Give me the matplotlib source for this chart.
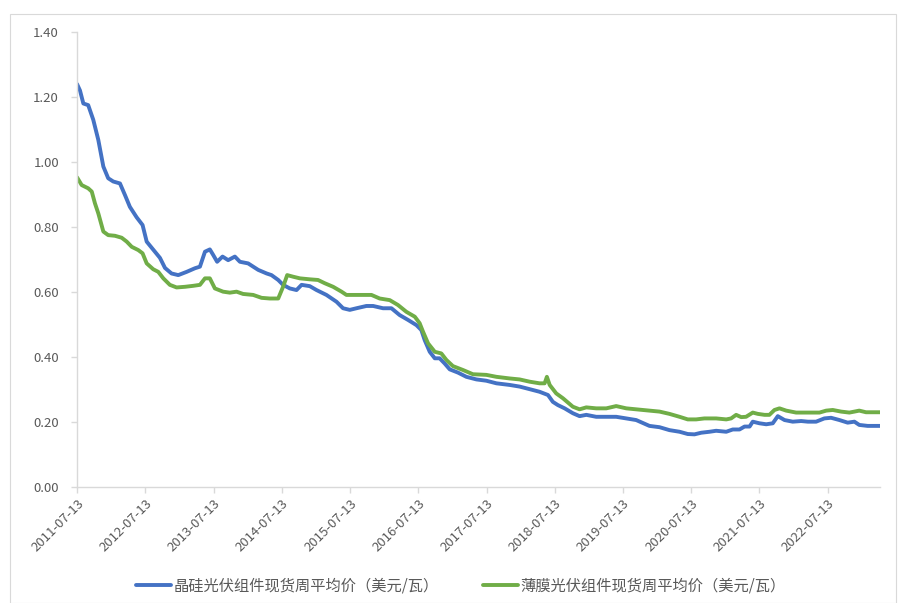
import matplotlib
matplotlib.use("Agg")
import matplotlib.pyplot as plt
from matplotlib.patches import Rectangle
import pandas as pd

plt.rcParams['font.family'] = ['Noto Sans CJK SC', 'DejaVu Sans']

# Weekly average spot price of PV modules (USD/W)
crystal_dates = [
    "2011-07-13", "2011-07-29", "2011-08-16", "2011-09-11", "2011-10-08", "2011-11-04",
    "2011-12-01", "2011-12-27", "2012-01-23", "2012-02-28", "2012-03-26", "2012-04-21",
    "2012-05-27", "2012-06-28", "2012-07-20", "2012-09-02", "2012-09-29", "2012-10-26",
    "2012-11-30", "2013-01-05", "2013-02-19", "2013-04-04", "2013-05-01", "2013-05-28",
    "2013-06-23", "2013-07-11", "2013-08-01", "2013-08-30", "2013-09-29", "2013-11-04",
    "2013-12-01", "2014-01-14", "2014-03-09", "2014-04-23", "2014-05-19", "2014-06-24",
    "2014-07-20", "2014-08-25", "2014-09-30", "2014-10-27", "2014-12-10", "2015-01-15",
    "2015-03-09", "2015-05-02", "2015-06-06", "2015-07-12", "2015-08-17", "2015-10-09",
    "2015-11-14", "2016-01-06", "2016-02-20", "2016-04-04", "2016-05-19", "2016-07-03",
    "2016-07-29", "2016-08-16", "2016-09-12", "2016-10-09", "2016-11-04", "2016-12-01",
    "2016-12-28", "2017-02-10", "2017-03-27", "2017-05-20", "2017-07-12", "2017-09-04",
    "2017-11-14", "2018-01-06", "2018-03-01", "2018-04-23", "2018-06-07", "2018-07-03",
    "2018-07-30", "2018-09-04", "2018-10-18", "2018-11-23", "2018-12-29", "2019-02-20",
    "2019-04-15", "2019-06-07", "2019-07-31", "2019-09-22", "2019-12-02", "2020-01-25",
    "2020-03-18", "2020-05-11", "2020-06-24", "2020-07-30", "2020-09-04", "2020-10-19",
    "2020-11-23", "2021-01-16", "2021-02-20", "2021-03-28", "2021-04-24", "2021-05-21",
    "2021-06-07", "2021-07-13", "2021-08-18", "2021-09-22", "2021-10-19", "2021-11-24",
    "2022-01-07", "2022-02-21", "2022-03-29", "2022-05-12", "2022-06-25", "2022-07-31",
    "2022-09-14", "2022-10-28", "2022-12-03", "2022-12-29", "2023-02-12", "2023-04-19",
]
crystal_price = [
    1.240, 1.220, 1.180, 1.175, 1.130, 1.068,
    0.986, 0.950, 0.940, 0.934, 0.898, 0.862,
    0.830, 0.806, 0.755, 0.724, 0.705, 0.674,
    0.657, 0.652, 0.662, 0.673, 0.678, 0.724,
    0.731, 0.714, 0.693, 0.709, 0.698, 0.709,
    0.693, 0.688, 0.668, 0.657, 0.652, 0.637,
    0.622, 0.611, 0.606, 0.622, 0.618, 0.606,
    0.591, 0.570, 0.550, 0.545, 0.550, 0.557,
    0.557, 0.550, 0.550, 0.529, 0.514, 0.498,
    0.483, 0.452, 0.416, 0.396, 0.396, 0.380,
    0.362, 0.352, 0.339, 0.331, 0.327, 0.319,
    0.314, 0.309, 0.301, 0.293, 0.283, 0.262,
    0.252, 0.242, 0.227, 0.218, 0.222, 0.216,
    0.216, 0.216, 0.211, 0.206, 0.188, 0.184,
    0.175, 0.170, 0.163, 0.162, 0.167, 0.170,
    0.173, 0.170, 0.177, 0.177, 0.186, 0.186,
    0.201, 0.196, 0.193, 0.196, 0.218, 0.206,
    0.201, 0.203, 0.201, 0.201, 0.211, 0.213,
    0.206, 0.198, 0.201, 0.191, 0.188, 0.188,
]

film_dates = [
    "2011-07-13", "2011-08-07", "2011-09-11", "2011-09-30", "2011-10-17", "2011-11-04",
    "2011-12-01", "2011-12-27", "2012-02-01", "2012-03-08", "2012-04-04", "2012-05-01",
    "2012-06-05", "2012-06-28", "2012-07-20", "2012-08-24", "2012-09-20", "2012-10-17",
    "2012-11-21", "2012-12-27", "2013-02-10", "2013-03-26", "2013-05-01", "2013-05-28",
    "2013-06-23", "2013-07-20", "2013-09-02", "2013-10-08", "2013-11-13", "2013-12-18",
    "2014-02-10", "2014-03-27", "2014-05-10", "2014-06-24", "2014-07-20", "2014-08-11",
    "2014-09-12", "2014-10-18", "2014-12-10", "2015-01-23", "2015-02-28", "2015-04-14",
    "2015-05-29", "2015-06-24", "2015-08-17", "2015-11-05", "2015-12-19", "2016-02-11",
    "2016-03-26", "2016-05-10", "2016-06-24", "2016-07-20", "2016-08-07", "2016-09-03",
    "2016-10-09", "2016-11-13", "2016-12-10", "2017-01-14", "2017-03-09", "2017-05-01",
    "2017-07-12", "2017-09-04", "2017-11-14", "2018-01-06", "2018-03-01", "2018-04-23",
    "2018-05-20", "2018-06-01", "2018-06-16", "2018-07-21", "2018-08-26", "2018-10-18",
    "2018-11-23", "2018-12-29", "2019-02-20", "2019-04-15", "2019-06-07", "2019-07-31",
    "2019-09-22", "2019-12-02", "2020-01-25", "2020-03-18", "2020-05-11", "2020-06-24",
    "2020-08-08", "2020-09-21", "2020-11-23", "2021-01-16", "2021-02-11", "2021-03-10",
    "2021-04-06", "2021-05-02", "2021-06-07", "2021-07-04", "2021-08-09", "2021-09-04",
    "2021-10-01", "2021-10-28", "2021-12-03", "2022-01-25", "2022-04-06", "2022-05-30",
    "2022-07-05", "2022-08-09", "2022-09-23", "2022-11-06", "2022-12-03", "2022-12-29",
    "2023-02-03", "2023-04-19",
]
film_price = [
    0.953, 0.929, 0.919, 0.909, 0.873, 0.842,
    0.786, 0.775, 0.773, 0.767, 0.755, 0.739,
    0.729, 0.719, 0.688, 0.670, 0.662, 0.642,
    0.622, 0.614, 0.616, 0.619, 0.622, 0.642,
    0.642, 0.611, 0.601, 0.598, 0.601, 0.594,
    0.591, 0.582, 0.580, 0.580, 0.616, 0.652,
    0.647, 0.642, 0.639, 0.637, 0.627, 0.616,
    0.601, 0.591, 0.591, 0.591, 0.580, 0.575,
    0.560, 0.539, 0.524, 0.504, 0.478, 0.442,
    0.416, 0.411, 0.391, 0.372, 0.360, 0.347,
    0.345, 0.339, 0.334, 0.331, 0.324, 0.319,
    0.319, 0.339, 0.314, 0.288, 0.273, 0.247,
    0.239, 0.245, 0.242, 0.242, 0.249, 0.242,
    0.239, 0.235, 0.232, 0.225, 0.216, 0.208,
    0.208, 0.211, 0.211, 0.208, 0.211, 0.222,
    0.215, 0.216, 0.229, 0.225, 0.222, 0.222,
    0.237, 0.242, 0.235, 0.229, 0.229, 0.229,
    0.235, 0.237, 0.232, 0.229, 0.232, 0.235,
    0.230, 0.230,
]

series_names = ["晶硅光伏组件现货周平均价（美元/瓦）", "薄膜光伏组件现货周平均价（美元/瓦）"]
series_colors = ["#4472C4", "#70AD47"]
tick_years = list(range(2011, 2023))
y_ticks = [0.0, 0.2, 0.4, 0.6, 0.8, 1.0, 1.2, 1.4]

crystal_x = pd.to_datetime(crystal_dates)
film_x = pd.to_datetime(film_dates)

fig = plt.figure(figsize=(8.98, 6.03), dpi=100)
fig.patch.set_facecolor("white")
# light frame around the chart area
fig.patches.append(Rectangle((10 / 898, 0), 886 / 898, 1 - 14 / 603,
                             transform=fig.transFigure, fill=False,
                             edgecolor="#D9D9D9", linewidth=0.8))

ax = fig.add_axes([77 / 898, 1 - 487 / 603, (880 - 77) / 898, (487 - 32) / 603])

ax.plot(crystal_x, crystal_price, color=series_colors[0], lw=2.8,
        solid_joinstyle="round", solid_capstyle="round", label=series_names[0])
ax.plot(film_x, film_price, color=series_colors[1], lw=2.8,
        solid_joinstyle="round", solid_capstyle="round", label=series_names[1])

ax.set_xlim(pd.Timestamp("2011-07-13"), pd.Timestamp("2023-04-19"))
ax.set_ylim(0, 1.4)

ax.set_yticks(y_ticks)
ax.set_yticklabels([f"{v:.2f}" for v in y_ticks])
tick_dates = [pd.Timestamp(f"{y}-07-13") for y in tick_years]
ax.set_xticks(tick_dates)
ax.set_xticklabels([d.strftime("%Y-%m-%d") for d in tick_dates],
                   rotation=45, ha="right", rotation_mode="anchor")

for side in ("top", "right"):
    ax.spines[side].set_visible(False)
for side in ("left", "bottom"):
    ax.spines[side].set_color("#D9D9D9")
    ax.spines[side].set_linewidth(1.0)

ax.tick_params(axis="both", colors="#D9D9D9", labelcolor="#595959",
               labelsize=9.5, length=4, width=1.0, direction="out")
ax.tick_params(axis="y", pad=9)
ax.tick_params(axis="x", pad=3)

fig.legend(loc="center", bbox_to_anchor=(0.513, 1 - 586 / 603), ncol=2,
           frameon=False, fontsize=11, labelcolor="#595959",
           handlelength=2.3, handletextpad=0.15, columnspacing=2.9)

fig.savefig("out.png", dpi=100, facecolor="white")
